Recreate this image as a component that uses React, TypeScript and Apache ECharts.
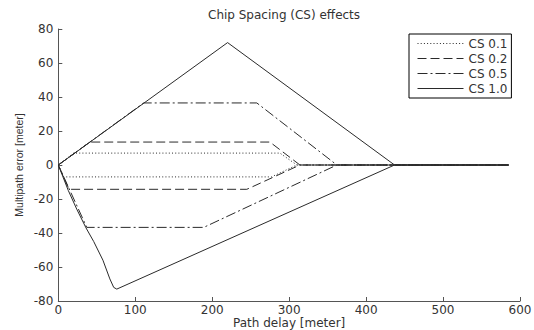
import React, { useEffect, useRef } from "react";
import * as echarts from "echarts";

// ---- data ----
const xEnd = 585;
const xTicks = [0, 100, 200, 300, 400, 500, 600];
const yTicks = [-80, -60, -40, -20, 0, 20, 40, 60, 80];

const seriesNames = ["CS 0.1", "CS 0.2", "CS 0.5", "CS 1.0"];

// upper envelopes [delay, error]
const cs01Upper = [[0, 0], [20, 7], [288, 7], [310, 0]];
const cs02Upper = [[0, 0], [41, 13.5], [275, 13.5], [314, 0]];
const cs05Upper = [[0, 0], [111, 36.5], [258, 36.5], [362, 0]];
const cs10Upper = [[0, 0], [220, 72], [437, 0]];

// lower envelopes [delay, error]
const cs01Lower = [[0, 0], [7, -7], [277, -7], [310, 0]];
const cs02Lower = [[0, 0], [14, -14.3], [245, -14.3], [314, 0]];
const cs05Lower = [[0, 0], [37, -36.7], [189, -36.7], [362, 0]];
const cs10Lower = [
  [0, 0], [13, -15], [24, -26], [36, -37], [46, -45], [58, -56],
  [67, -67], [72, -72], [76, -73], [437, 0],
];

const uppers = [cs01Upper, cs02Upper, cs05Upper, cs10Upper];
const lowers = [cs01Lower, cs02Lower, cs05Lower, cs10Lower];
const dashes: any[] = [[1, 2.2], [9, 4], [10, 3, 2, 3], "solid"];

function envelope(upper: number[][], lower: number[][]) {
  const up = upper.slice().reverse();
  return [[xEnd, 0], ...up, ...lower.slice(1), [xEnd, 0]];
}

const FONT = "DejaVu Sans";
const LINE = "#2a2a2a";

export default function App() {
  const ref = useRef<HTMLDivElement>(null);
  useEffect(() => {
    document.body.style.margin = "0";
    const chart = echarts.init(ref.current!, null, { renderer: "svg" });
    const axisCommon = {
      axisLine: { show: true, onZero: false, lineStyle: { color: "#555", width: 1 } },
      axisTick: { show: true, inside: true, length: 4, lineStyle: { color: "#555" } },
      splitLine: { show: false },
      axisLabel: { color: "#333", fontFamily: FONT, fontSize: 12, lineHeight: 12 },
    };
    chart.setOption({
      animation: false,
      backgroundColor: "#fff",
      title: {
        text: "Chip Spacing (CS) effects",
        left: 208,
        top: 9,
        padding: 0,
        textStyle: { fontFamily: FONT, fontSize: 12, fontWeight: "normal", color: "#333" },
      },
      legend: {
        data: seriesNames,
        orient: "vertical",
        left: 409,
        top: 34,
        itemWidth: 46,
        itemHeight: 12,
        itemGap: 3,
        padding: [3.5, 4, 3.5, 8],
        borderColor: "#000",
        borderWidth: 1,
        backgroundColor: "#fff",
        itemStyle: { opacity: 0 },
        lineStyle: { width: 1 },
        textStyle: { fontFamily: FONT, fontSize: 12, color: "#333" },
      },
      grid: {
        left: 58.3, right: 14, top: 29, bottom: 29,
        containLabel: false, outerBoundsMode: "none",
      },
      xAxis: {
        type: "value",
        min: xTicks[0],
        max: xTicks[xTicks.length - 1],
        interval: 100,
        name: "Path delay [meter]",
        nameLocation: "middle",
        nameGap: 16,
        nameMoveOverlap: false,
        nameTextStyle: { fontFamily: FONT, fontSize: 12, lineHeight: 12, color: "#333" },
        ...axisCommon,
        axisLabel: { ...axisCommon.axisLabel, margin: 3 },
      },
      yAxis: {
        type: "value",
        min: yTicks[0],
        max: yTicks[yTicks.length - 1],
        interval: 20,
        name: "Multipath error [meter]",
        nameLocation: "middle",
        nameGap: 34,
        nameMoveOverlap: false,
        nameTextStyle: { fontFamily: "Liberation Sans", fontSize: 10.5, color: "#333" },
        ...axisCommon,
        axisLabel: { ...axisCommon.axisLabel, margin: 5 },
      },
      series: seriesNames.map((name, i) => ({
        name,
        type: "line",
        data: envelope(uppers[i], lowers[i]),
        symbol: "none",
        showSymbol: false,
        lineStyle: { color: LINE, width: 1, type: dashes[i] },
        itemStyle: { color: LINE },
      })),
    });
    return () => chart.dispose();
  }, []);
  return (
    <div
      ref={ref}
      style={{ position: "fixed", left: 0, top: 0, width: 534, height: 330 }}
    />
  );
}
